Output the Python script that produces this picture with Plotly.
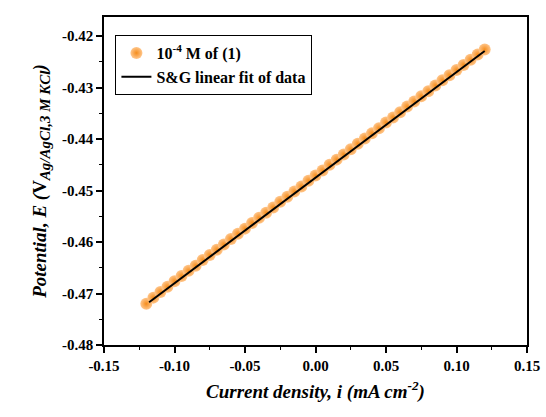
import plotly.graph_objs as go

current = [-0.120, -0.115, -0.110, -0.105, -0.100, -0.095, -0.090, -0.085, -0.080, -0.075,
           -0.070, -0.065, -0.060, -0.055, -0.050, -0.045, -0.040, -0.035, -0.030, -0.025,
           -0.020, -0.015, -0.010, -0.005, 0.000, 0.005, 0.010, 0.015, 0.020, 0.025,
           0.030, 0.035, 0.040, 0.045, 0.050, 0.055, 0.060, 0.065, 0.070, 0.075,
           0.080, 0.085, 0.090, 0.095, 0.100, 0.105, 0.110, 0.115, 0.120]
potential = [-0.4720, -0.4708, -0.4697, -0.4687, -0.4676, -0.4666, -0.4656, -0.4646, -0.4635, -0.4625,
             -0.4615, -0.4605, -0.4594, -0.4584, -0.4574, -0.4563, -0.4553, -0.4543, -0.4533, -0.4522,
             -0.4512, -0.4502, -0.4492, -0.4481, -0.4471, -0.4461, -0.4450, -0.4440, -0.4430, -0.4420,
             -0.4409, -0.4399, -0.4389, -0.4379, -0.4368, -0.4358, -0.4348, -0.4337, -0.4327, -0.4317,
             -0.4307, -0.4296, -0.4286, -0.4276, -0.4266, -0.4256, -0.4246, -0.4236, -0.4226]

fit_x = [-0.118, 0.120]
fit_y = [-0.4717, -0.4229]

x_ticks = [-0.15, -0.10, -0.05, 0.00, 0.05, 0.10, 0.15]
x_labels = ["-0.15", "-0.10", "-0.05", "0.00", "0.05", "0.10", "0.15"]
y_ticks = [-0.48, -0.47, -0.46, -0.45, -0.44, -0.43, -0.42]
y_labels = ["-0.48", "-0.47", "-0.46", "-0.45", "-0.44", "-0.43", "-0.42"]

font_fam = "Liberation Serif"

fig = go.Figure()
fig.add_trace(go.Scatter(x=current, y=potential, mode="markers",
                         name="<b>10<sup>-4</sup> M of (1)</b>",
                         marker=dict(size=12, color="#ffc68c",
                                     gradient=dict(type="radial", color="#f58d1c"),
                                     line=dict(width=0))))
fig.add_trace(go.Scatter(x=fit_x, y=fit_y, mode="lines",
                         name="<b>S&G linear fit of data</b>",
                         line=dict(color="black", width=2)))

axis_common = dict(showline=True, linecolor="black", linewidth=1.5, mirror=True,
                   ticks="outside", ticklen=6, tickwidth=1.5, tickcolor="black",
                   showgrid=False, zeroline=False, automargin=False,
                   minor=dict(ticks="outside", ticklen=3, tickwidth=1.2, tickcolor="black"),
                   tickfont=dict(family=font_fam, size=15, color="black", weight="bold"))

fig.update_xaxes(range=[-0.15, 0.15], tickvals=x_ticks,
                 ticktext=["<b>" + t + "</b>" for t in x_labels],
                 minor_dtick=0.025,
                 title=dict(text="<b><i>Current density, i (mA cm<sup>-2</sup>)</i></b>",
                            font=dict(family=font_fam, size=19, color="black"), standoff=12),
                 **axis_common)
fig.update_yaxes(range=[-0.48, -0.4163], tickvals=y_ticks,
                 ticktext=["<b>" + t + "</b>" for t in y_labels],
                 minor_dtick=0.005,
                 title=dict(text="<b><i>Potential, E (</i>V<sub><i><span style='font-size:15px'>Ag/AgCl,3 M KCl</span></i></sub><i>)</i></b>",
                            font=dict(family=font_fam, size=19, color="black"), standoff=10),
                 **axis_common)

fig.update_layout(width=546, height=417,
                  font=dict(family=font_fam, color="black", weight="bold"),
                  paper_bgcolor="#fff", plot_bgcolor="#fff",
                  margin=dict(l=104, r=19, t=17, b=72),
                  showlegend=True,
                  legend=dict(x=0.027, y=0.945, xanchor="left", yanchor="top",
                              bgcolor="white", bordercolor="black", borderwidth=1,
                              font=dict(family=font_fam, size=16, color="black"),
                              tracegroupgap=0, itemwidth=30))

fig.write_html("out.html", config={"displayModeBar": False},
               post_script="document.body.style.margin='0';")
